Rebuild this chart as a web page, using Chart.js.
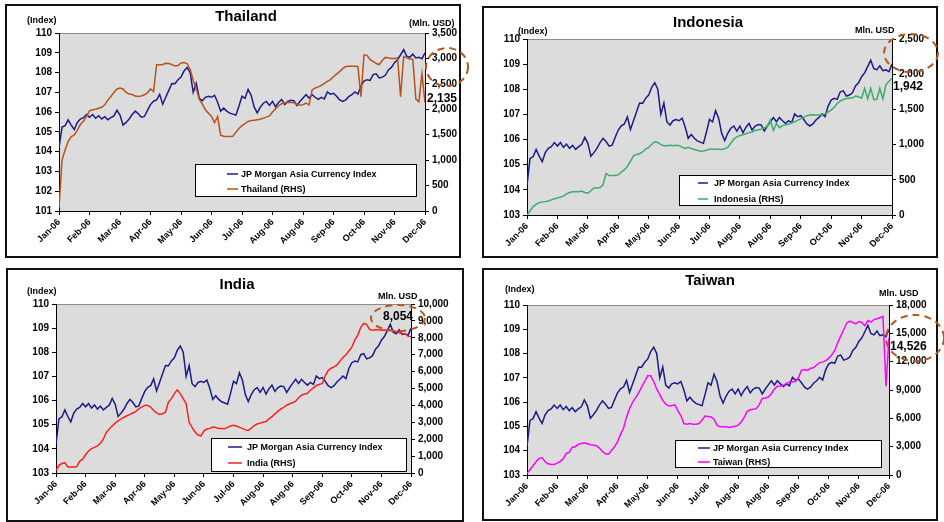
<!DOCTYPE html>
<html>
<head>
<meta charset="utf-8">
<script src="https://cdn.jsdelivr.net/npm/chart.js@4.4.1/dist/chart.umd.min.js"></script>
<style>
  html, body { margin: 0; padding: 0; background: #fff; }
  body { width: 944px; height: 522px; position: relative; overflow: hidden; }
  canvas { position: absolute; }
  #c1 { left: 0; top: 0; }
  #c2 { left: 472px; top: 0; }
  #c3 { left: 0; top: 261px; }
  #c4 { left: 472px; top: 261px; }
</style>
</head>
<body>
<canvas id="c1" width="472" height="261"></canvas>
<canvas id="c2" width="472" height="261"></canvas>
<canvas id="c3" width="472" height="261"></canvas>
<canvas id="c4" width="472" height="261"></canvas>
<script>
// axe des x : 13 repères, données lues tous les 1/10 de repère
const xLabels = ['Jan-06', 'Feb-06', 'Mar-06', 'Apr-06', 'May-06', 'Jun-06', 'Jul-06',
  'Aug-06', 'Aug-06', 'Sep-06', 'Oct-06', 'Nov-06', 'Dec-06'];

// JP Morgan Asia Currency Index (commun aux 4 graphiques)
const jpmIndex = [
  104.19, 105.25, 105.32, 105.61, 105.34, 105.12, 105.48, 105.65, 105.72, 105.88,
  105.74, 105.88, 105.69, 105.82, 105.65, 105.77, 105.61, 105.72, 105.81, 106.09,
  105.85, 105.34, 105.48, 105.65, 105.88, 106.05, 105.92, 105.74, 105.78, 106.09,
  106.38, 106.55, 106.62, 106.90, 106.40, 106.75, 107.10, 107.45, 107.44, 107.64,
  107.77, 108.08, 108.26, 108.00, 107.00, 107.45, 106.70, 106.58, 106.75, 106.80,
  106.75, 106.85, 106.50, 106.05, 106.20, 106.05, 105.95, 105.90, 105.85, 106.30,
  106.80, 106.70, 107.15, 106.85, 106.25, 105.96, 106.25, 106.45, 106.54, 106.34,
  106.54, 106.27, 106.49, 106.64, 106.38, 106.54, 106.60, 106.58, 106.34, 106.54,
  106.71, 106.88, 106.71, 106.88, 106.75, 106.64, 106.75, 106.67, 107.02, 106.91,
  106.95, 106.80, 106.62, 106.54, 106.62, 106.78, 106.88, 107.02, 106.91, 107.33,
  107.57, 107.64, 107.60, 107.90, 107.94, 107.73, 107.77, 107.86, 108.13, 108.26,
  108.50, 108.65, 108.90, 109.16, 108.83, 108.77, 108.93, 108.74, 108.77, 108.70,
  109.00
];

// Thaïlande (Mln. USD)
const thailand = [
  60, 1005, 1200, 1366, 1465, 1490, 1590, 1700, 1765, 1858,
  1970, 1990, 2000, 2020, 2040, 2088, 2180, 2250, 2330, 2400,
  2420, 2400, 2330, 2300, 2290, 2260, 2250, 2260, 2285, 2320,
  2400, 2350, 2880, 2870, 2880, 2905, 2900, 2880, 2850, 2860,
  2910, 2920, 2900, 2780, 2570, 2400, 2200, 2100, 1990, 1920,
  1858, 1740, 1860, 1490, 1470, 1465, 1465, 1470, 1550, 1620,
  1680, 1720, 1760, 1780, 1785, 1795, 1805, 1826, 1845, 1870,
  1945, 2010, 2070, 2110, 2125, 2140, 2135, 2130, 2100, 2085,
  2090, 2120, 2088, 2380, 2420, 2440, 2470, 2510, 2550, 2585,
  2640, 2690, 2740, 2800, 2840, 2845, 2845, 2845, 2840, 2250,
  3070, 3060, 2975, 2940, 2900, 2880, 2960, 3020, 3010, 3000,
  3000, 3010, 2250, 3040, 3010, 2990, 2985, 2200, 2150, 2700,
  2135
];

// Indonésie (Mln. USD)
const indonesia = [
  0, 60, 118, 150, 175, 185, 190, 200, 215, 230,
  240, 255, 268, 300, 320, 330, 330, 330, 340, 320,
  310, 345, 385, 385, 390, 430, 590, 560, 560, 560,
  570, 610, 640, 690, 760, 840, 860, 870, 895, 935,
  960, 1005, 1040, 1030, 1000, 985, 985, 990, 985, 990,
  985, 965, 945, 960, 945, 930, 920, 905, 910, 920,
  935, 935, 935, 935, 930, 940, 960, 1020, 1080, 1110,
  1130, 1140, 1155, 1170, 1180, 1200, 1210, 1220, 1240, 1255,
  1350, 1200, 1300, 1240, 1270, 1280, 1290, 1310, 1325, 1345,
  1370, 1390, 1410, 1420, 1425, 1420, 1420, 1425, 1440, 1460,
  1490, 1530, 1585, 1620, 1640, 1655, 1660, 1665, 1690, 1680,
  1660, 1800, 1650, 1800, 1640, 1640, 1800, 1650, 1850, 1900,
  1942
];

// Inde (Mln. USD)
const india = [
  150, 450, 560, 610, 360, 350, 360, 380, 690, 820,
  1080, 1300, 1440, 1520, 1600, 1760, 2000, 2400, 2600, 2780,
  2950, 3080, 3200, 3300, 3390, 3470, 3550, 3650, 3800, 3910,
  4000, 4000, 3900, 3700, 3560, 3460, 3500, 3600, 4200, 4400,
  4700, 4920, 4700, 4400, 4100, 3000, 2700, 2430, 2250, 2200,
  2500, 2600, 2640, 2720, 2690, 2630, 2640, 2620, 2700, 2780,
  2826, 2780, 2700, 2640, 2550, 2520, 2650, 2800, 2900, 2950,
  3000, 3050, 3200, 3330, 3500, 3650, 3790, 3880, 4010, 4100,
  4160, 4250, 4450, 4600, 4680, 4720, 4900, 5040, 5180, 5240,
  5300, 5750, 6060, 6200, 6280, 6400, 6620, 6830, 7000, 7220,
  7450, 7865, 8150, 8600, 8850, 8800, 8500, 8450, 8470, 8470,
  8440, 8460, 8450, 8460, 8440, 8360, 8300, 8250, 8240, 8100,
  8054
];

// Taïwan (Mln. USD)
const taiwan = [
  176, 560, 985, 1400, 1760, 1830, 1400, 1180, 1125, 1125,
  1250, 1450, 1700, 2280, 2400, 2950, 3000, 3240, 3340, 3400,
  3340, 3200, 3170, 3100, 2850, 2500, 2250, 2200, 2600, 2990,
  3500, 4300, 4950, 6150, 7030, 7700, 8200, 8700, 9300, 9900,
  10500, 10500, 9900, 9100, 8500, 7900, 7500, 7320, 7320, 7450,
  6800, 6300, 5450, 5380, 5450, 5380, 5380, 5450, 5800, 6250,
  6200, 6150, 5900, 5250, 5100, 5100, 5100, 5020, 5100, 5150,
  5280, 5620, 6100, 6750, 6900, 6950, 7030, 7450, 8100, 8150,
  8260, 8600, 9100, 9400, 9420, 9500, 9700, 9850, 9880, 9900,
  10300, 11100, 11150, 11080, 11300, 11350, 11650, 11900, 11950, 12100,
  12350, 12700, 13180, 14000, 14700, 15400, 16100, 16300, 16150, 16000,
  16250, 16150, 15800, 16350, 16200, 16450, 16550, 16650, 16800, 9400,
  14526
];

const FONT = 'Liberation Sans, Arial, sans-serif';
Chart.defaults.font.family = FONT;
Chart.defaults.font.weight = 'bold';
Chart.defaults.color = '#000';

const toPoints = (arr) => arr.map((v, i) => ({ x: i / 10, y: v }));

// décor : cadre, titre, unités, légende, ellipse pointillée
const decorPlugin = {
  id: 'decor',
  beforeDraw(chart, args, o) {
    const { ctx, chartArea: a } = chart;
    ctx.save();
    ctx.fillStyle = '#dcdcdc';
    ctx.fillRect(a.left, a.top, a.right - a.left, a.bottom - a.top);
    ctx.strokeStyle = '#8c8c8c';
    ctx.lineWidth = 1;
    ctx.beginPath();
    ctx.moveTo(a.left, a.top + 0.5);
    ctx.lineTo(a.right, a.top + 0.5);
    ctx.stroke();
    ctx.restore();
  },
  afterDraw(chart, args, o) {
    const ctx = chart.ctx;
    ctx.save();
    // cadre
    ctx.strokeStyle = '#111';
    ctx.lineWidth = 2;
    ctx.strokeRect(o.box[0], o.box[1], o.box[2] - o.box[0], o.box[3] - o.box[1]);
    // titre
    ctx.fillStyle = '#000';
    ctx.textBaseline = 'middle';
    ctx.textAlign = 'center';
    ctx.font = 'bold 15px ' + FONT;
    ctx.fillText(o.title, o.titlePos[0], o.titlePos[1]);
    // unités
    ctx.font = 'bold 9px ' + FONT;
    ctx.textAlign = 'left';
    ctx.fillText('(Index)', o.leftUnit[0], o.leftUnit[1]);
    ctx.fillText(o.rightUnitText, o.rightUnit[0], o.rightUnit[1]);
    // légende
    const lg = o.legend;
    ctx.fillStyle = '#fff';
    ctx.fillRect(lg.box[0], lg.box[1], lg.box[2] - lg.box[0], lg.box[3] - lg.box[1]);
    ctx.strokeStyle = '#000';
    ctx.lineWidth = 1;
    ctx.strokeRect(lg.box[0] + 0.5, lg.box[1] + 0.5, lg.box[2] - lg.box[0], lg.box[3] - lg.box[1]);
    chart.data.datasets.slice().sort((p, q) => q.order - p.order).forEach((ds, i) => {
      const y = lg.rows[i];
      ctx.strokeStyle = ds.borderColor;
      ctx.lineWidth = 1.5;
      ctx.beginPath();
      ctx.moveTo(lg.line[0], y);
      ctx.lineTo(lg.line[1], y);
      ctx.stroke();
      ctx.fillStyle = '#000';
      ctx.font = 'bold 9px ' + FONT;
      ctx.fillText(ds.label, lg.textX, y + 0.5);
    });
    // ellipse pointillée et valeur
    const e = o.ellipse;
    ctx.strokeStyle = '#b4581e';
    ctx.lineWidth = 2;
    ctx.setLineDash([7, 5]);
    ctx.beginPath();
    ctx.ellipse(e[0], e[1], e[2], e[3], 0, 0, Math.PI * 2);
    ctx.stroke();
    ctx.setLineDash([]);
    ctx.fillStyle = '#000';
    ctx.font = 'bold 12px ' + FONT;
    ctx.fillText(o.value, o.valuePos[0], o.valuePos[1]);
    ctx.restore();
  }
};

function makeChart(id, p) {
  const W = 472, H = 261;
  return new Chart(document.getElementById(id), {
    type: 'line',
    data: {
      datasets: [{
        label: 'JP Morgan Asia Currency Index',
        data: toPoints(jpmIndex),
        borderColor: '#1c1c8a',
        borderWidth: 1.5,
        pointRadius: 0,
        yAxisID: 'y',
        order: 1
      }, {
        label: p.name + ' (RHS)',
        data: toPoints(p.series),
        borderColor: p.color,
        borderWidth: 1.5,
        pointRadius: 0,
        yAxisID: 'y1',
        order: 0
      }]
    },
    options: {
      responsive: false,
      animation: false,
      events: [],
      layout: { padding: { top: p.plot[2], left: 0, right: 0, bottom: 0 } },
      plugins: {
        legend: { display: false },
        tooltip: { enabled: false },
        decor: p.decor
      },
      scales: {
        x: {
          type: 'linear',
          min: 0,
          max: 12,
          afterBuildTicks: (s) => { s.ticks = xLabels.map((_, i) => ({ value: i })); },
          afterFit: (s) => { s.height = H - p.plot[3]; },
          ticks: {
            autoSkip: false,
            minRotation: 45,
            maxRotation: 45,
            padding: 2,
            font: { size: 9, weight: 'bold' },
            callback: (v, i) => xLabels[i]
          },
          grid: { drawOnChartArea: false, tickLength: 4, color: '#000' },
          border: { color: '#000', width: 1 }
        },
        y: {
          position: 'left',
          min: p.left[0],
          max: p.left[1],
          afterFit: (s) => { s.width = p.plot[0]; },
          ticks: { stepSize: 1, padding: 3, font: { size: 10, weight: 'bold' } },
          grid: { drawOnChartArea: false, tickLength: 4, color: '#000' },
          border: { color: '#000', width: 1 }
        },
        y1: {
          position: 'right',
          min: 0,
          max: p.right[0],
          afterFit: (s) => { s.width = W - p.plot[1]; },
          ticks: {
            stepSize: p.right[1],
            padding: 3,
            font: { size: 10, weight: 'bold' },
            callback: (v) => v.toLocaleString('en-US')
          },
          grid: { drawOnChartArea: false, tickLength: 4, color: '#000' },
          border: { color: '#000', width: 1 }
        }
      }
    },
    plugins: [decorPlugin]
  });
}

makeChart('c1', {
  name: 'Thailand', series: thailand, color: '#b8531c',
  left: [101, 110], right: [3500, 500], plot: [59, 425, 33, 211],
  decor: {
    box: [6, 5, 460, 257], title: 'Thailand', titlePos: [246, 17],
    leftUnit: [27, 21], rightUnit: [409, 24], rightUnitText: '(Mln. USD)',
    legend: { box: [195, 164, 416, 196], rows: [174, 189], line: [227, 238], textX: 241 },
    ellipse: [447, 67, 21, 19], value: '2,135', valuePos: [427, 99]
  }
});

makeChart('c2', {
  name: 'Indonesia', series: indonesia, color: '#3aae6c',
  left: [103, 110], right: [2500, 500], plot: [55, 420, 39, 215],
  decor: {
    box: [11, 7, 465, 257], title: 'Indonesia', titlePos: [236, 23],
    leftUnit: [46, 32], rightUnit: [383, 31], rightUnitText: 'Mln. USD',
    legend: { box: [207, 175, 420, 205], rows: [183, 199], line: [226, 236], textX: 242 },
    ellipse: [439, 53, 27, 19], value: '1,942', valuePos: [421, 87]
  }
});

makeChart('c3', {
  name: 'India', series: india, color: '#ff2020',
  left: [103, 110], right: [10000, 1000], plot: [56, 411, 43, 212],
  decor: {
    box: [7, 8, 463, 260], title: 'India', titlePos: [237, 24],
    leftUnit: [27, 31], rightUnit: [378, 36], rightUnitText: 'Mln. USD',
    legend: { box: [211, 177, 406, 210], rows: [186, 202], line: [228, 242], textX: 247 },
    ellipse: [398, 57, 27, 13], value: '8,054', valuePos: [383, 56]
  }
});

makeChart('c4', {
  name: 'Taiwan', series: taiwan, color: '#ff00ff',
  left: [103, 110], right: [18000, 3000], plot: [55, 417, 44, 214],
  decor: {
    box: [11, 8, 465, 259], title: 'Taiwan', titlePos: [238, 20],
    leftUnit: [33, 29], rightUnit: [407, 33], rightUnitText: 'Mln. USD',
    legend: { box: [203, 179, 409, 206], rows: [187, 201], line: [226, 238], textX: 241 },
    ellipse: [443, 77, 29, 23], value: '14,526', valuePos: [418, 86]
  }
});
</script>
</body>
</html>
